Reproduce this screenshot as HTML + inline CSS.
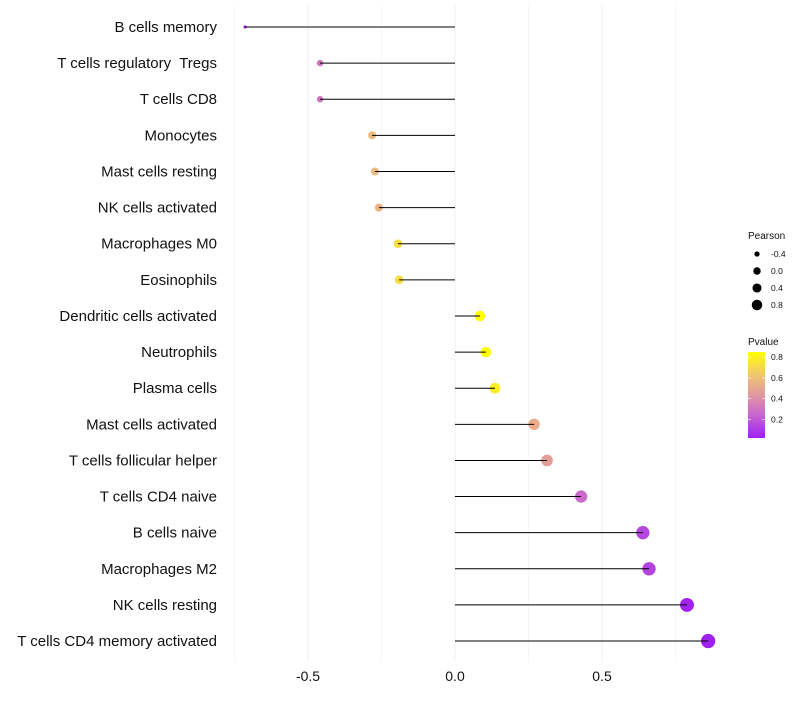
<!DOCTYPE html>
<html><head><meta charset="utf-8"><style>
body{margin:0;background:#fff;font-family:"Liberation Sans",sans-serif}
text{white-space:pre}
</style></head><body>
<svg id="c" width="800" height="700" xmlns="http://www.w3.org/2000/svg" font-family="Liberation Sans, sans-serif" xml:space="preserve"></svg>
<script>
const categories=["B cells memory","T cells regulatory  Tregs","T cells CD8","Monocytes","Mast cells resting","NK cells activated","Macrophages M0","Eosinophils","Dendritic cells activated","Neutrophils","Plasma cells","Mast cells activated","T cells follicular helper","T cells CD4 naive","B cells naive","Macrophages M2","NK cells resting","T cells CD4 memory activated"];
const pearson=[-0.714,-0.459,-0.459,-0.282,-0.272,-0.259,-0.194,-0.19,0.085,0.105,0.136,0.269,0.313,0.429,0.639,0.66,0.789,0.861];
const pvalues=[0.02,0.3,0.3,0.58,0.58,0.56,0.72,0.72,0.86,0.84,0.78,0.52,0.46,0.26,0.14,0.13,0.03,0.02];
const xTicks=[-0.5,0,0.5];
const xTickLabels=["-0.5","0.0","0.5"];
const sizeLegend=[-0.4,0,0.4,0.8];
const pLegend=[0.8,0.6,0.4,0.2];
const svg=document.getElementById('c');
const NS="http://www.w3.org/2000/svg";
function X(v){return 455+v*294;}
function Y(i){return 27+i*36.12;}
function R(v){return Math.sqrt(Math.max(1,24.5+30.6*v));}
const stops=[[0,[160,32,240]],[0.25,[196,98,212]],[0.5,[226,152,160]],[0.75,[242,200,110]],[1,[255,255,0]]];
function col(p){let t=Math.min(1,Math.max(0,(p-0.02)/0.83));for(let k=1;k<stops.length;k++){if(t<=stops[k][0]){const a=stops[k-1],b=stops[k];const f=(t-a[0])/(b[0]-a[0]);return 'rgb('+a[1].map((c,j)=>Math.round(c+(b[1][j]-c)*f)).join(',')+')';}}return 'rgb(255,255,0)';}
function el(t,a,txt){const e=document.createElementNS(NS,t);for(const k in a)e.setAttribute(k,a[k]);if(txt!=null)e.textContent=txt;svg.appendChild(e);return e;}
for(let g=-0.75;g<=0.76;g+=0.25){const e=el('line',{x1:X(g),x2:X(g),y1:5,y2:662,stroke:'#f0f0f0','stroke-width':Math.abs(g*4)%2===0?1:0.6});

}
xTicks.forEach((v,i)=>{const t=el('text',{x:X(v),y:681,'text-anchor':'middle','font-size':14,fill:'#111'},xTickLabels[i]);

});
categories.forEach((c,i)=>{
const y=Y(i);
const t=el('text',{x:217,y:y+5,'text-anchor':'end','font-size':15,fill:'#111'},c);


const p=el('circle',{cx:X(pearson[i]),cy:y,r:R(pearson[i]),fill:col(pvalues[i])});


const l=el('line',{x1:X(0),x2:X(pearson[i]),y1:y,y2:y,stroke:'#000','stroke-width':1});


});
const lt=el('text',{x:748,y:239,'font-size':10,fill:'#111'},'Pearson');


sizeLegend.forEach((v,i)=>{const y=254+i*17;
const c=el('circle',{cx:757,cy:y,r:R(v)*0.75,fill:'#000'});


const t=el('text',{x:771,y:y+3,'font-size':8.5,fill:'#111'},v===0?'0.0':String(v));

});
const ct=el('text',{x:748,y:345,'font-size':10,fill:'#111'},'Pvalue');


const defs=el('defs',{});
const lg=document.createElementNS(NS,'linearGradient');lg.setAttribute('id','g');lg.setAttribute('x1','0');lg.setAttribute('y1','1');lg.setAttribute('x2','0');lg.setAttribute('y2','0');defs.appendChild(lg);
stops.forEach(s=>{const st=document.createElementNS(NS,'stop');st.setAttribute('offset',s[0]);st.setAttribute('stop-color','rgb('+s[1].join(',')+')');lg.appendChild(st);});
const bar=el('rect',{x:748,y:352,width:17,height:86,fill:'url(#g)'});


pLegend.forEach(v=>{const y=438-(v-0.02)/0.83*86;
el('line',{x1:748,x2:751,y1:y,y2:y,stroke:'#fff','stroke-width':0.6});el('line',{x1:762,x2:765,y1:y,y2:y,stroke:'#fff','stroke-width':0.6});
const t=el('text',{x:771,y:y+3,'font-size':8.5,fill:'#111'},v.toFixed(1));

});
</script>
</body></html>
